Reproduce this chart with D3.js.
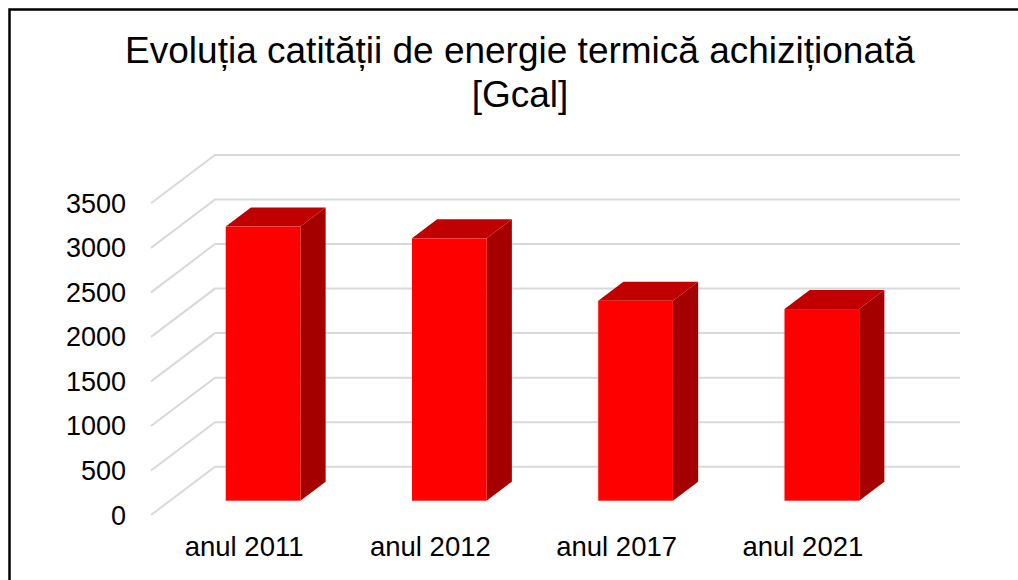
<!DOCTYPE html>
<html>
<head>
<meta charset="utf-8">
<script src="https://cdn.jsdelivr.net/npm/d3@7"></script>
<style>
  html, body { margin: 0; padding: 0; background: #fff; }
  svg { display: block; font-family: "Liberation Sans", Arial, sans-serif; }
</style>
</head>
<body>
<div id="chart"></div>
<script>
// date
const categories = ['anul 2011', 'anul 2012', 'anul 2017', 'anul 2021'];
const values = [3078, 2946, 2246, 2152];
const yTicks = [0, 500, 1000, 1500, 2000, 2500, 3000, 3500];
const titleLines = ['Evoluția catității de energie termică achiziționată', '[Gcal]'];

const width = 1018, height = 580;
const svg = d3.select('#chart').append('svg').attr('width', width).attr('height', height);

// proiectie oblica: vectorul de adancime complet
const depthX = 64, depthY = -48.3;
const frontLeft = 151, frontRight = 896;

const x = d3.scaleBand().domain(categories).range([frontLeft, frontRight]).padding(0);
const y = d3.scaleLinear().domain([0, 3500]).range([515, 203.3]);

// grila (perete lateral + perete din spate)
svg.append('g').selectAll('path').data(yTicks).enter().append('path')
  .attr('d', v => `M${frontLeft},${y(v)} L${frontLeft + depthX},${y(v) + depthY} L${frontRight + depthX},${y(v) + depthY}`)
  .attr('fill', 'none').attr('stroke', '#d9d9d9').attr('stroke-width', 2);

// etichete axa Y
svg.append('g').selectAll('text').data(yTicks).enter().append('text')
  .attr('x', 126).attr('y', v => y(v) + 9.5)
  .attr('text-anchor', 'end').attr('font-size', '27px').attr('fill', '#000')
  .text(v => v);

// bare 3D
const t1 = 0.296, t2 = 0.69;
const barW = x.bandwidth() * 0.401;
const bars = svg.append('g').selectAll('g').data(categories).enter().append('g');

bars.each(function(c, i){
  const g = d3.select(this);
  const x0 = x(c) + (x.bandwidth() - barW) / 2 + depthX * t1;
  const x1 = x0 + barW;
  const yb = y(0) + depthY * t1;
  const yt = y(values[i]) + depthY * t1;
  const dx = depthX * (t2 - t1), dy = depthY * (t2 - t1);
  // latura dreapta
  g.append('path').attr('d', `M${x1},${yb} L${x1 + dx},${yb + dy} L${x1 + dx},${yt + dy} L${x1},${yt} Z`).attr('fill', '#a50000');
  // capac
  g.append('path').attr('d', `M${x0},${yt} L${x0 + dx},${yt + dy} L${x1 + dx},${yt + dy} L${x1},${yt} Z`).attr('fill', '#c00000');
  // fata
  g.append('rect').attr('x', x0).attr('y', yt).attr('width', barW).attr('height', yb - yt).attr('fill', '#ff0000');
});

// etichete categorii
svg.append('g').selectAll('text').data(categories).enter().append('text')
  .attr('x', c => x(c) + x.bandwidth() / 2).attr('y', 556)
  .attr('text-anchor', 'middle').attr('font-size', '27.5px').attr('fill', '#000')
  .text(c => c);

// titlu
svg.append('g').selectAll('text').data(titleLines).enter().append('text')
  .attr('x', 520).attr('y', (d, i) => 63 + i * 44)
  .attr('text-anchor', 'middle').attr('font-size', '37px').attr('fill', '#000')
  .text(d => d);

// chenar (doar stanga si sus vizibile)
svg.append('path').attr('d', 'M9.5,580 V9.5 H1018').attr('fill', 'none').attr('stroke', '#000').attr('stroke-width', 2.5);
</script>
</body>
</html>
